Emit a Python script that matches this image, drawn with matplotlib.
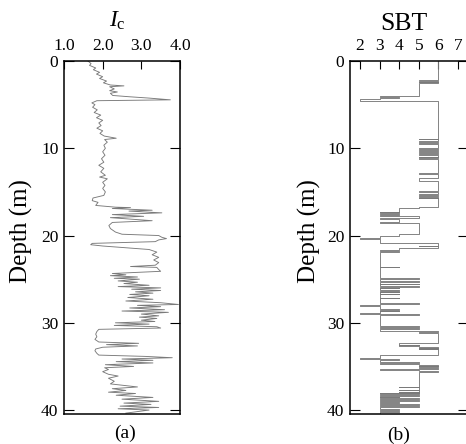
"""CPT profile: soil behaviour index Ic and SBT zone against depth."""

import matplotlib

matplotlib.use("Agg")
import matplotlib.pyplot as plt
import numpy as np

plt.rcParams["font.family"] = "serif"
plt.rcParams["font.serif"] = ["Liberation Serif", "DejaVu Serif"]
plt.rcParams["mathtext.fontset"] = "custom"
plt.rcParams["mathtext.rm"] = "Liberation Serif"
plt.rcParams["mathtext.it"] = "Liberation Serif:italic"

# (a) Ic trace
ic_depth = [
    0.0, 0.3, 0.5, 0.8, 1.0, 1.3, 1.5, 1.8, 2.0, 2.3, 2.5, 2.75, 2.85, 2.95, 3.2, 3.4,
    3.55, 3.7, 3.95, 4.1, 4.25, 4.45, 4.55, 4.8, 5.0, 5.3, 5.6, 5.9, 6.2, 6.5, 6.8, 7.1,
    7.4, 7.7, 8.0, 8.3, 8.6, 8.85, 9.0, 9.3, 9.65, 10.0, 10.4, 10.8, 11.2, 11.6, 11.95,
    12.3, 12.7, 13.1, 13.3, 13.5, 13.9, 14.25, 14.6, 15.0, 15.4, 15.7, 16.0, 16.2, 16.55,
    16.75, 16.8, 16.9, 17.1, 17.2, 17.4, 17.6, 17.8, 17.95, 18.3, 18.5, 18.85, 19.2, 19.6,
    19.85, 20.0, 20.2, 20.35, 20.5, 20.7, 20.9, 21.05, 21.2, 21.6, 21.9, 22.2, 22.5, 22.8,
    23.1, 23.4, 23.55, 23.65, 23.9, 24.1, 24.35, 24.5, 24.6, 24.75, 24.9, 25.0, 25.2,
    25.35, 25.5, 25.7, 25.85, 26.0, 26.15, 26.3, 26.45, 26.6, 26.75, 26.9, 27.1, 27.3,
    27.5, 27.7, 27.9, 28.0, 28.15, 28.3, 28.5, 28.65, 28.8, 29.0, 29.2, 29.35, 29.5, 29.7,
    29.85, 30.0, 30.15, 30.3, 30.45, 30.6, 30.75, 31.0, 31.3, 31.6, 31.9, 32.2, 32.35,
    32.5, 32.65, 32.8, 33.0, 33.2, 33.5, 33.7, 33.85, 34.0, 34.15, 34.3, 34.45, 34.6,
    34.8, 35.0, 35.15, 35.35, 35.6, 35.9, 36.1, 36.35, 36.7, 37.0, 37.35, 37.55, 37.75,
    37.95, 38.1, 38.3, 38.55, 38.75, 39.0, 39.2, 39.35, 39.55, 39.7, 39.85, 40.0, 40.2,
    40.35,
]
ic_val = [
    1.62, 1.70, 1.66, 1.82, 1.76, 1.92, 1.84, 2.00, 1.92, 2.10, 2.02, 2.20, 2.55, 2.18, 2.30, 2.18,
    2.38, 2.20, 2.26, 2.70, 3.20, 3.75, 1.85, 1.72, 1.80, 1.74, 1.86, 1.78, 1.95, 1.84, 2.00, 1.90,
    1.96, 1.85, 2.00, 1.93, 2.04, 2.35, 2.05, 2.12, 2.03, 2.07, 2.00, 2.06, 1.97, 2.03, 1.90,
    2.03, 1.95, 2.07, 1.92, 2.12, 2.00, 2.06, 2.00, 2.07, 2.03, 1.75, 1.73, 1.88, 1.82,
    2.33, 2.72, 2.25, 3.28, 2.68, 3.53, 2.25, 3.06, 2.20, 3.28, 2.25, 2.16, 2.20, 2.33,
    2.50, 3.45, 3.53, 3.65, 3.45, 3.36, 1.73, 1.69, 2.00, 3.20, 3.40, 3.28, 3.45, 3.32,
    3.45, 3.36, 2.72, 3.40, 3.45, 3.50, 2.25, 2.60, 2.20, 2.90, 2.30, 2.95, 2.40,
    2.90, 2.55, 3.20, 2.40, 3.50, 2.75, 3.50, 2.85, 3.30, 2.70, 3.20, 2.65, 3.30,
    2.60, 3.50, 3.96, 2.90, 3.50, 2.70, 3.60, 2.50, 3.70, 3.00, 3.45, 2.95, 3.40, 3.00,
    3.35, 2.33, 3.20, 2.30, 3.40, 3.50, 1.90, 1.85, 1.82, 1.85, 1.80, 1.90, 2.93,
    2.10, 2.90, 2.00, 1.82, 1.80, 1.85, 1.90, 3.10, 3.80, 2.50, 3.30, 2.35, 3.30,
    2.07, 2.80, 2.05, 2.15, 2.00, 2.15, 2.40, 2.15, 2.30, 2.20, 2.90, 2.25, 2.60,
    2.15, 2.85, 2.35, 3.30, 2.50, 3.45, 2.55, 3.25, 2.45, 3.45, 2.40, 3.20, 2.85,
    2.60,
]

# (b) SBT zones: depth at top of each layer and its zone number
sbt_top = [
    0.0, 2.15, 2.25, 2.35, 2.45, 2.55, 4.05, 4.15, 4.25, 4.4, 4.6,
    8.9, 8.98, 9.2, 9.3, 9.45, 9.52,
    10.0, 10.08, 10.2, 10.3, 10.45, 10.55, 10.7, 10.8, 10.95, 11.05, 11.15, 11.2,
    12.85, 12.92, 13.4, 13.8,
    14.95, 15.05, 15.2, 15.35, 15.45, 15.55, 15.65, 15.72,
    16.7, 16.9, 17.25, 17.35, 17.45, 17.5, 17.6, 17.75, 18.0, 18.15, 18.45, 18.6,
    19.85, 20.0, 20.3, 20.4, 20.9, 21.15, 21.2, 21.45, 21.65, 21.8, 21.85, 23.55, 23.65,
    24.9, 24.95, 25.2, 25.25, 25.35, 25.5, 25.55, 25.8, 25.85, 26.0, 26.05, 26.2, 26.3,
    26.45, 26.5, 26.65, 26.7, 27.15, 27.2, 27.7, 27.8, 27.85, 27.9, 28.0, 28.1, 28.45,
    28.5, 28.6, 28.65, 28.85, 28.95, 29.0, 29.1, 30.35, 30.45, 30.65, 30.75, 30.95,
    31.1, 31.15, 32.3, 32.5, 32.55, 32.65, 32.75, 32.85, 32.9, 33.0, 33.05, 33.7, 34.0,
    34.1, 34.2, 34.3, 34.45, 34.55, 34.75, 34.85, 34.95, 35.0, 35.1, 35.15, 35.35, 35.4,
    35.5, 35.6, 37.3, 37.4, 37.65, 37.75, 37.9, 37.95, 38.05, 38.1, 38.2, 38.3, 38.35,
    38.5, 38.55, 38.65, 38.75, 38.9, 39.0, 39.1, 39.15, 39.3, 39.4, 39.55, 39.65, 39.85,
    39.95, 40.1, 40.2,
]
sbt_val = [
    6, 5, 6, 5, 6, 5, 3, 4, 3, 2, 6,
    5, 6, 5, 6, 5, 6,
    5, 6, 5, 6, 5, 6, 5, 6, 5, 6, 5, 6,
    5, 6, 5, 6,
    5, 6, 5, 6, 5, 6, 5, 6,
    5, 4, 3, 4, 3, 4, 3, 5, 3, 4, 3, 5,
    4, 3, 2, 3, 6, 5, 6, 4, 3, 4, 3, 4, 3,
    5, 3, 4, 5, 3, 5, 3, 5, 3, 4, 3, 4, 3,
    4, 3, 4, 3, 4, 3, 5, 3, 4, 3, 2, 3, 4,
    3, 4, 3, 2, 3, 5, 3, 5, 3, 5, 3, 6,
    5, 6, 4, 5, 4, 5, 6, 5, 6, 5, 6, 3, 2,
    3, 4, 3, 5, 3, 5, 6, 5, 6, 5, 6, 3, 5,
    6, 5, 4, 5, 4, 5, 4, 5, 3, 5, 3, 5, 3,
    4, 3, 5, 3, 5, 3, 4, 3, 5, 3, 5, 3, 4,
    3, 4, 3,
]

depth_ticks = [0, 10, 20, 30, 40]
ic_ticks = [1.0, 2.0, 3.0, 4.0]
sbt_ticks = [2, 3, 4, 5, 6, 7]

line_kw = dict(color="#7a7a7a", lw=0.65)

W, H = 466, 444
fig = plt.figure(figsize=(W / 100, H / 100), dpi=100)
ax_a = fig.add_axes([64 / W, 30 / H, 116 / W, 353 / H])
ax_b = fig.add_axes([350 / W, 30 / H, 118 / W, 353 / H])


def style(ax, label_x):
    ax.set_ylim(40.45, 0)
    ax.set_yticks(depth_ticks)
    ax.xaxis.tick_top()
    ax.tick_params(axis="x", direction="in", length=6, width=0.8, pad=5, labelsize=12.5)
    ax.tick_params(axis="y", direction="in", length=7, width=0.8, pad=4, labelsize=12.5,
                   right=True)
    for s in ax.spines.values():
        s.set_linewidth(1.1)
    fig.text(label_x / W, 1 - 231 / H, "Depth (m)", fontsize=18, rotation=90,
             ha="center", va="center")


ax_a.plot(ic_val, ic_depth, **line_kw)
ax_a.set_xlim(1.0, 4.0)
ax_a.set_xticks(ic_ticks)
ax_a.set_xticklabels([f"{t:.1f}" for t in ic_ticks])
style(ax_a, 21)

ax_b.plot(sbt_val + [sbt_val[-1]], sbt_top + [40.45], drawstyle="steps-pre", **line_kw)
ax_b.set_xlim(1.5, 7.5)
ax_b.set_xticks(sbt_ticks)
style(ax_b, 309)

fig.text(117 / W, 1 - 27 / H, r"$I_{\rm c}$", fontsize=17, ha="center", va="baseline")
fig.text(404 / W, 1 - 30 / H, "SBT", fontsize=18.5, ha="center", va="baseline")
fig.text(125 / W, 1 - 433 / H, "(a)", fontsize=14, ha="center", va="center")
fig.text(399 / W, 1 - 435 / H, "(b)", fontsize=14, ha="center", va="center")

fig.savefig("out.png", dpi=100)
